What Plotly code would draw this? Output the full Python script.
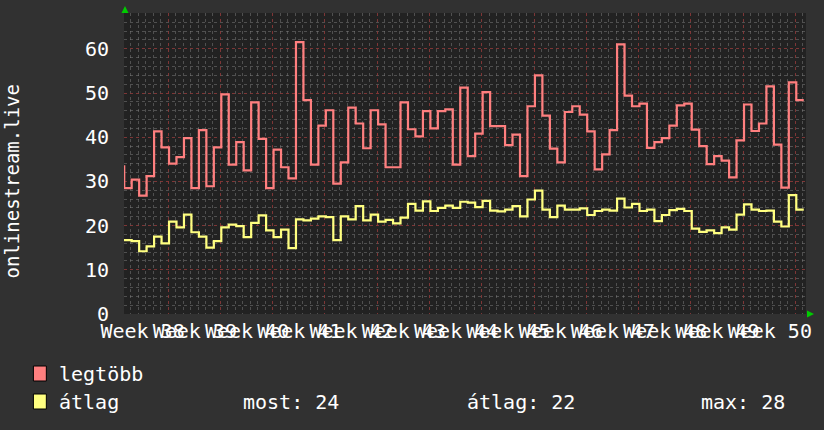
import numpy as np
import plotly.graph_objects as go

# ---------------- data ----------------
week_labels = ["Week 38", "Week 39", "Week 40", "Week 41", "Week 42", "Week 43", "Week 44",
               "Week 45", "Week 46", "Week 47", "Week 48", "Week 49", "Week 50"]
y_ticks = [0, 10, 20, 30, 40, 50, 60]

legtobb_prev = 33.4
legtobb = [28.5, 30.4, 26.8, 31.2, 41.3, 37.7, 34.0, 35.5, 39.8, 28.5,
           41.6, 28.9, 37.7, 49.7, 33.8, 38.9, 32.5, 47.9, 39.6, 28.5,
           37.2, 33.2, 30.7,
           61.5, 48.4, 33.8, 42.6, 46.1, 29.5, 34.3, 46.7, 43.1, 37.5,
           46.1, 42.9, 33.2, 33.2, 47.9, 41.8, 40.2, 45.9, 42.0, 45.9,
           46.3, 33.8,
           51.2, 35.7, 40.8, 50.2, 42.5, 42.5, 38.2, 40.6, 31.2, 47.0,
           54.0, 44.9, 37.4, 34.3, 45.7, 47.0, 45.1, 41.3, 32.7, 36.1,
           41.6, 61.0, 49.4, 47.0,
           47.6, 37.6, 38.9, 39.8, 42.6, 47.2, 47.6, 41.7, 38.0, 33.9,
           35.7, 34.7, 30.9, 39.3, 47.4, 41.4, 43.1, 51.5, 38.3, 28.6,
           52.4, 48.4]

atlag_prev = 16.7
atlag = [16.7, 16.5, 14.2, 15.3, 17.5, 16.0, 20.9, 19.6, 22.5, 18.5,
         17.5, 15.0, 16.5, 19.6, 20.2, 19.9, 17.4, 20.6, 22.3, 18.9,
         17.4, 19.1, 14.9,
         21.4, 21.2, 21.6, 22.1, 21.9, 16.7, 22.1, 21.4, 24.4, 21.2,
         22.5, 20.9, 21.3, 20.5, 21.8, 24.9, 23.4, 25.5, 23.3, 24.0,
         24.5, 24.0,
         25.4, 25.2, 24.2, 25.6, 23.4, 23.2, 23.6, 24.4, 22.1, 25.9,
         27.9, 23.6, 21.9, 24.5, 23.6, 23.6, 23.9, 22.4, 23.3, 23.6,
         23.4, 26.1, 24.1, 24.9,
         23.3, 23.6, 21.0, 22.4, 23.5, 23.8, 23.3, 19.3, 18.6, 18.9,
         18.3, 19.6, 19.1, 22.5, 24.8, 23.6, 23.3, 23.4, 20.9, 19.8,
         26.9, 23.6]

# ---------------- geometry / style ----------------
W, H = 824, 430
ML, MR, MT, MB = 124, 15, 13, 116
PW, PH = W - ML - MR, H - MT - MB
FONT = "DejaVu Sans Mono"
BG = "#313131"
CANVAS = "#222222"
RED = "#ff7f7f"
YEL = "#ffff80"
MINOR = "rgba(125,125,125,0.5)"
MAJOR = "rgba(140,45,45,0.75)"
WEEK0 = 5.88          # first week boundary (days)
LABEL0 = 2.45         # first label centre (days)
XR = [-0.03, 91.3]
YR = [0, 68.1]

n = len(legtobb)
days = np.arange(-1, n + 1)
red_y = [legtobb_prev] + legtobb + [legtobb[-1]]
yel_y = [atlag_prev] + atlag + [atlag[-1]]


def px(x):
    return (x - ML) / PW


def py(y):
    return (H - MB - y) / PH


fig = go.Figure()
fig.add_trace(go.Scatter(x=days, y=red_y, mode="lines", line=dict(shape="hv", color=RED, width=2.2),
                         hoverinfo="skip", showlegend=False))
fig.add_trace(go.Scatter(x=days, y=yel_y, mode="lines", line=dict(shape="hv", color=YEL, width=2.2),
                         hoverinfo="skip", showlegend=False, xaxis="x2"))

label_pos = [LABEL0 + 7 * i for i in range(len(week_labels))]
week_lines = [WEEK0 + 7 * i for i in range(len(week_labels))]

fig.update_layout(
    width=W, height=H,
    margin=dict(l=ML, r=MR, t=MT, b=MB),
    paper_bgcolor=BG, plot_bgcolor=CANVAS,
    font=dict(family=FONT, color="white", size=20),
    xaxis=dict(range=XR, tickvals=label_pos, ticktext=week_labels, tickangle=0,
               showgrid=False, zeroline=False, showline=False, ticks="",
               ticklabelstandoff=3,
               tickfont=dict(family=FONT, size=20, color="white"),
               minor=dict(tick0=WEEK0, dtick=1, showgrid=True, gridcolor=MINOR,
                          griddash="dot", gridwidth=1)),
    xaxis2=dict(range=XR, overlaying="x", anchor="y", side="bottom",
                tickvals=week_lines, showticklabels=False, showgrid=True,
                gridcolor=MAJOR, griddash="dot", gridwidth=1, zeroline=False, ticks=""),
    yaxis=dict(range=YR, tickvals=y_ticks, showgrid=True, gridcolor=MAJOR, griddash="dot",
               zeroline=False, showline=False, ticks="", ticklabelstandoff=14,
               tickfont=dict(family=FONT, size=20, color="white"),
               minor=dict(dtick=2, showgrid=True, gridcolor=MINOR, griddash="dot", gridwidth=1)),
)

shapes = []
# green axis arrows
shapes.append(dict(type="path", xref="paper", yref="paper",
                   path=f"M {px(121.5)} {py(13)} L {px(128.5)} {py(13)} L {px(125)} {py(6)} Z",
                   fillcolor="#00cc00", line=dict(width=0), layer="above"))
shapes.append(dict(type="path", xref="paper", yref="paper",
                   path=f"M {px(810)} {py(310.5)} L {px(810)} {py(317.5)} L {px(817)} {py(314)} Z",
                   fillcolor="#00cc00", line=dict(width=0), layer="above"))
# legend squares
for (y0, y1), col in [((366, 381), RED), ((394, 409), YEL)]:
    shapes.append(dict(type="rect", xref="paper", yref="paper",
                       x0=px(33), x1=px(46), y0=py(y1), y1=py(y0),
                       fillcolor=col, line=dict(color="black", width=1)))
fig.update_layout(shapes=shapes)

last_v = atlag[-1]
mean_v = float(np.mean(atlag))
max_v = max(atlag)

ann = []
def txt(x, y, s, xanchor="left", size=20, angle=0):
    ann.append(dict(x=px(x), y=py(y), xref="paper", yref="paper", text=s, showarrow=False,
                    xanchor=xanchor, yanchor="middle", textangle=angle,
                    font=dict(family=FONT, size=size, color="white")))

txt(57, 374, "legtöbb")
txt(57, 402, "átlag")
txt(242, 402, f"most: {last_v:.0f}")
txt(466, 402, f"átlag: {mean_v:.0f}")
txt(702, 402, f"max: {max_v:.0f}")
ann.append(dict(x=px(12), y=py(181), xref="paper", yref="paper", text="onlinestream.live",
                showarrow=False, xanchor="center", yanchor="middle", textangle=-90,
                font=dict(family=FONT, size=19, color="white")))
fig.update_layout(annotations=ann)

fig.write_html("out.html", config={"displayModeBar": False},
               post_script="document.body.style.margin='0';document.body.style.background='#313131';")
